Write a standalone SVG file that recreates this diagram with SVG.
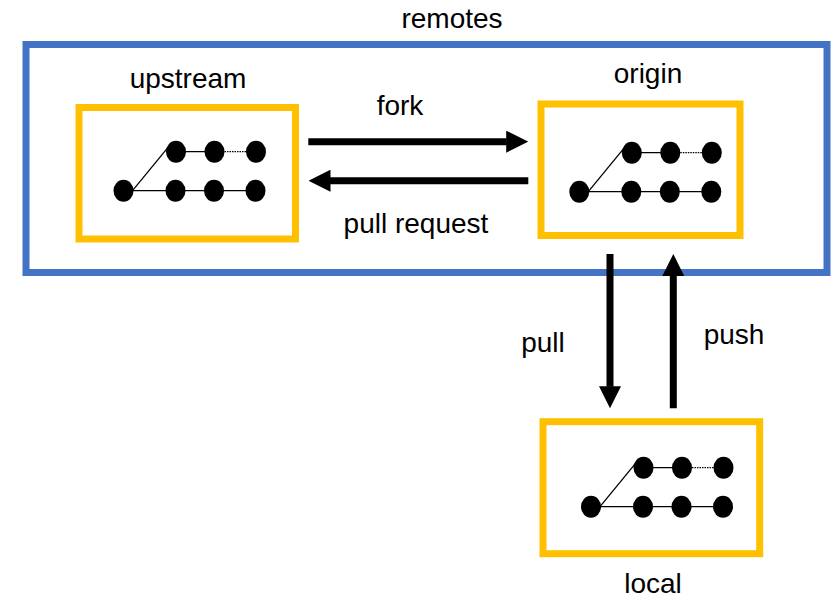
<svg xmlns="http://www.w3.org/2000/svg" xmlns:xlink="http://www.w3.org/1999/xlink" width="833" height="598" viewBox="0 0 833 598">
  <style>
    .lbl { font-family: "Liberation Sans", Arial, sans-serif; font-size: 28px; fill: #000; text-anchor: middle; }
    .repo { fill: none; stroke: #FFC000; stroke-width: 7; }
    .group { fill: none; stroke: #4472C4; stroke-width: 7; }
    .shaft { stroke: #000; stroke-width: 7; fill: none; marker-end: url(#head); }
    .edge { stroke: #000; stroke-width: 1.3; fill: none; }
    .edge.dash { stroke-dasharray: 1.5 1; }
    .commit { fill: #000; }
  </style>
  <defs>
    <marker id="head" markerUnits="userSpaceOnUse" viewBox="0 0 22 22" markerWidth="22" markerHeight="22" refX="0.5" refY="11" orient="auto">
      <path d="M0,0 L22,11 L0,22 Z" fill="#000"/>
    </marker>
    <!-- commit history: a root commit with two branches -->
    <g id="history">
      <line class="edge" x1="9" y1="0" x2="43.5" y2="-42"/>
      <line class="edge" x1="0" y1="0" x2="132" y2="0"/>
      <line class="edge" x1="52" y1="-39" x2="91" y2="-39"/>
      <line class="edge dash" x1="91" y1="-39" x2="132" y2="-39"/>
      <ellipse class="commit" cx="0" cy="0" rx="10" ry="11"/>
      <ellipse class="commit" cx="52.5" cy="-39" rx="10" ry="11"/>
      <ellipse class="commit" cx="91" cy="-39" rx="10" ry="11"/>
      <ellipse class="commit" cx="132.5" cy="-39" rx="10" ry="11"/>
      <ellipse class="commit" cx="52" cy="0" rx="10" ry="11"/>
      <ellipse class="commit" cx="90.5" cy="0" rx="10" ry="11"/>
      <ellipse class="commit" cx="132" cy="0" rx="10" ry="11"/>
    </g>
  </defs>

  <g id="remotes">
    <rect class="group" x="26" y="44.5" width="801" height="228"/>
    <text class="lbl" x="452" y="28">remotes</text>
  </g>

  <g id="upstream">
    <rect class="repo" x="79" y="107.5" width="216.5" height="131.5"/>
    <use xlink:href="#history" x="123.5" y="190.7"/>
    <text class="lbl" x="188" y="88">upstream</text>
  </g>

  <g id="origin">
    <rect class="repo" x="541" y="104" width="199" height="131.5"/>
    <use xlink:href="#history" x="579.3" y="191.7"/>
    <text class="lbl" x="648" y="82.5">origin</text>
  </g>

  <g id="local">
    <rect class="repo" x="543" y="421.7" width="216.7" height="132"/>
    <use xlink:href="#history" x="591" y="506.7"/>
    <text class="lbl" x="653" y="593">local</text>
  </g>

  <g id="connectors">
    <line class="shaft" x1="308.3" y1="141.7" x2="506.7" y2="141.7"/>
    <text class="lbl" x="400" y="115">fork</text>
    <line class="shaft" x1="528.3" y1="180.7" x2="330" y2="180.7"/>
    <text class="lbl" x="416" y="233">pull request</text>
    <line class="shaft" x1="610" y1="254" x2="610" y2="386.7"/>
    <text class="lbl" x="543" y="352">pull</text>
    <line class="shaft" x1="673.3" y1="408.3" x2="673.3" y2="275.5"/>
    <text class="lbl" x="734" y="344">push</text>
  </g>
</svg>
